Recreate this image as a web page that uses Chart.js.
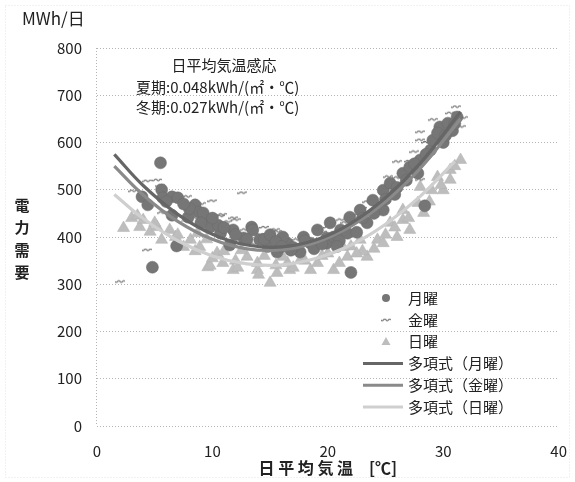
<!DOCTYPE html>
<html lang="ja">
<head>
<meta charset="utf-8">
<script src="https://cdn.jsdelivr.net/npm/chart.js@4.4.1/dist/chart.umd.min.js"></script>
<style>
  html, body { margin: 0; padding: 0; background: #fff; }
  #wrap { width: 575px; height: 482px; }
</style>
</head>
<body>
<div id="wrap"><canvas id="c" width="575" height="482"></canvas></div>
<script>
const FONT = "'Noto Sans CJK JP', 'Noto Sans', sans-serif";

// 月曜
const monX = [5.5, 4.8, 3.9, 4.4, 5.6, 5.7, 6.5, 7.0, 8.5, 8.8, 7.9, 9.4, 6.5, 6.9, 9.2, 9.8, 10.7, 11.8, 13.4, 14.1,
  12.7, 16.5, 18.5, 19.9, 17.6, 15.6, 11.5, 13.5, 16.1, 17.9, 19.1, 20.2, 21.1, 21.9, 22.8, 23.9, 24.8, 25.4, 26.5, 27.1,
  28.0, 28.9, 29.1, 29.7, 30.4, 31.2, 29.5, 27.8, 19.9, 21.7, 23.4, 24.8, 22.0, 28.4, 14.8, 12.0, 10.5, 8.0, 26.0, 25.0,
  30.0, 30.8, 14.5, 15.0, 15.5, 16.0, 17.0, 18.0, 18.8, 19.5, 20.5, 21.0, 22.5, 23.0, 24.0, 25.8, 26.8, 27.5, 28.5, 30.2,
  31.0, 13.0, 11.0, 10.0, 9.0, 7.5, 6.0, 16.8, 20.8];
const monY = [557, 336, 485, 468, 500, 483, 485, 483, 468, 453, 442, 436, 446, 381, 451, 421, 408, 415, 421, 394,
  398, 387, 387, 398, 368, 368, 383, 415, 400, 400, 415, 430, 415, 442, 457, 478, 499, 514, 535, 548,
  563, 584, 605, 633, 641, 654, 620, 535, 387, 408, 430, 457, 325, 466, 380, 405, 425, 460, 505, 480,
  600, 625, 395, 405, 390, 380, 378, 392, 375, 385, 400, 392, 410, 440, 450, 490, 520, 555, 575, 615,
  640, 395, 420, 440, 430, 470, 475, 372, 380];

// 金曜
const friX = [2.0, 4.3, 12.6, 4.3, 5.2, 3.1, 5.5, 6.3, 7.8, 10.0, 11.3, 12.0, 10.7, 12.8, 15.4, 15.2, 5.6, 31.1, 29.1, 28.0,
  28.0, 26.0, 25.2, 23.4, 28.0, 21.1, 15.6, 31.7, 31.5, 30.6, 10.8, 17.3, 18.7, 19.5, 20.0, 22.0, 24.0, 25.0, 26.5, 27.0,
  29.5, 30.0, 8.5, 14.0, 16.5, 13.5, 22.8, 14.5, 16.0, 17.8, 21.5, 23.0, 26.0, 27.5, 28.5, 9.0, 11.8];
const friY = [305, 372, 493, 518, 520, 497, 508, 487, 485, 476, 432, 436, 444, 415, 415, 400, 451, 675, 648, 622,
  605, 559, 527, 474, 521, 436, 411, 652, 633, 662, 447, 394, 394, 410, 420, 445, 470, 500, 540, 560,
  610, 640, 440, 405, 390, 385, 455, 420, 405, 400, 430, 460, 525, 580, 600, 470, 440];

// 日曜
const sunX = [2.3, 3.0, 3.7, 4.0, 4.6, 5.6, 6.3, 5.2, 7.8, 8.1, 7.5, 8.9, 9.6, 8.7, 10.4, 11.8, 10.9, 13.0, 13.9, 15.0,
  15.6, 16.5, 17.6, 19.1, 20.5, 21.7, 23.4, 24.3, 24.8, 25.4, 26.5, 26.5, 27.8, 28.0, 29.0, 29.5, 30.6, 31.5, 30.6, 30.0,
  28.3, 27.1, 26.0, 22.8, 21.3, 16.1, 13.9, 16.7, 9.8, 12.0, 14.5, 18.5, 20.0, 22.0, 23.0, 11.0, 6.8, 9.5, 12.5, 14.0,
  15.5, 17.0, 18.0, 19.5, 21.0, 22.5, 24.0, 25.0, 25.8, 27.0, 28.8, 29.8, 31.0, 12.2, 10.0, 8.5, 7.0, 5.0, 3.5];
const sunY = [419, 440, 421, 436, 411, 394, 415, 421, 440, 394, 379, 379, 336, 408, 366, 330, 345, 358, 330, 303,
  324, 345, 351, 345, 330, 358, 358, 394, 387, 430, 436, 457, 472, 506, 499, 527, 542, 563, 521, 499,
  451, 415, 400, 394, 379, 358, 345, 330, 339, 350, 360, 330, 365, 380, 370, 370, 400, 395, 372, 320,
  340, 335, 350, 360, 345, 365, 375, 405, 420, 440, 475, 510, 550, 335, 355, 370, 405, 430, 445];

// 多項式 trend lines
const trendX = [1.5, 4, 7, 10, 13, 16, 19, 22, 25, 28, 31.5];
const trendMonY = [575, 509, 448, 406, 383, 379, 394, 429, 483, 556, 665];
const trendFriY = [550, 489, 433, 395, 375, 373, 389, 423, 475, 545, 650];
const trendSunX = [1.5, 4, 7, 10, 13, 16, 19, 22, 25, 28, 31];
const trendSunY = [490, 439, 392, 360, 343, 341, 355, 383, 427, 486, 560];

const xTicks = [0, 10, 20, 30, 40];
const yTicks = [0, 100, 200, 300, 400, 500, 600, 700, 800];

const pts = (xs, ys) => xs.map((x, i) => ({ x: x, y: ys[i] }));

// small "~~~" marker used for 金曜
function waveMarker() {
    const c = document.createElement('canvas');
    c.width = 10; c.height = 5;
    const g = c.getContext('2d');
    g.strokeStyle = '#6f6f6f';
    g.lineWidth = 1.2;
    g.beginPath();
    g.moveTo(0, 2);
    for (let i = 0; i < 4; i++) {
        g.quadraticCurveTo(i * 2.5 + 1.25, i % 2 ? 0.5 : 4, i * 2.5 + 2.5, 2);
    }
    g.stroke();
    return c;
}
const wave = waveMarker();

const MON_COLOR = '#767676';
const SUN_COLOR = '#bdbdbd';
const MON_LINE = '#666666';
const FRI_LINE = '#8a8a8a';
const SUN_LINE = '#cfcfcf';

const legendItems = [
    { label: '月曜', kind: 'circle', color: MON_COLOR },
    { label: '金曜', kind: 'wave' },
    { label: '日曜', kind: 'triangle', color: SUN_COLOR },
    { label: '多項式（月曜）', kind: 'line', color: MON_LINE },
    { label: '多項式（金曜）', kind: 'line', color: FRI_LINE },
    { label: '多項式（日曜）', kind: 'line', color: SUN_LINE }
];

const extras = {
    id: 'extras',
    beforeDraw(chart) {
        const ctx = chart.ctx;
        ctx.save();
        ctx.fillStyle = '#fff';
        ctx.fillRect(0, 0, chart.width, chart.height);
        // faint dotted frame
        ctx.strokeStyle = '#e2e2e2';
        ctx.setLineDash([1, 2]);
        ctx.lineWidth = 1;
        ctx.strokeRect(5.5, 5.5, chart.width - 11, chart.height - 10);
        ctx.restore();
    },
    afterDraw(chart) {
        const ctx = chart.ctx;
        const a = chart.chartArea;
        ctx.save();
        // dotted y axis line
        ctx.strokeStyle = '#b4b4b4';
        ctx.setLineDash([1, 2]);
        ctx.beginPath();
        ctx.moveTo(a.left - 0.5, a.top);
        ctx.lineTo(a.left - 0.5, a.bottom);
        ctx.stroke();
        ctx.setLineDash([]);

        ctx.fillStyle = '#222';
        ctx.textBaseline = 'middle';

        // unit
        ctx.font = '17px ' + FONT;
        ctx.textAlign = 'left';
        ctx.fillText('MWh/日', 22, 19);

        // y title, stacked upright
        ctx.font = 'bold 15px ' + FONT;
        ctx.textAlign = 'center';
        ['電', '力', '需', '要'].forEach((ch, i) => ctx.fillText(ch, 22, 205 + i * 22.5));

        // note
        ctx.font = '15px ' + FONT;
        ctx.fillText('日平均気温感応', 224, 65);
        ctx.textAlign = 'left';
        ctx.fillText('夏期:0.048kWh/(㎡・℃)', 136, 87);
        ctx.fillText('冬期:0.027kWh/(㎡・℃)', 136, 107);

        // legend
        const lx = 386, tx = 408;
        ctx.font = '15px ' + FONT;
        legendItems.forEach((it, i) => {
            const y = 298 + i * 21.8;
            if (it.kind === 'circle') {
                ctx.fillStyle = it.color;
                ctx.beginPath();
                ctx.arc(lx, y, 4, 0, Math.PI * 2);
                ctx.fill();
            } else if (it.kind === 'triangle') {
                ctx.fillStyle = it.color;
                ctx.beginPath();
                ctx.moveTo(lx, y - 4.5);
                ctx.lineTo(lx + 4.5, y + 3.5);
                ctx.lineTo(lx - 4.5, y + 3.5);
                ctx.closePath();
                ctx.fill();
            } else if (it.kind === 'wave') {
                ctx.drawImage(wave, lx - 5, y - 2);
            } else {
                ctx.strokeStyle = it.color;
                ctx.lineWidth = 3;
                ctx.beginPath();
                ctx.moveTo(363, y);
                ctx.lineTo(403, y);
                ctx.stroke();
            }
            ctx.fillStyle = '#222';
            ctx.fillText(it.label, tx, y);
        });
        ctx.restore();
    }
};

const trendStyle = (color) => ({
    showLine: true,
    borderColor: color,
    borderWidth: 3.2,
    pointRadius: 0,
    tension: 0.4,
    fill: false,
    order: 0
});

new Chart(document.getElementById('c'), {
    type: 'scatter',
    data: {
        datasets: [
            Object.assign({ label: '多項式（月曜）', data: pts(trendX, trendMonY) }, trendStyle(MON_LINE)),
            Object.assign({ label: '多項式（金曜）', data: pts(trendX, trendFriY) }, trendStyle(FRI_LINE)),
            Object.assign({ label: '多項式（日曜）', data: pts(trendSunX, trendSunY) }, trendStyle(SUN_LINE)),
            {
                label: '月曜', data: pts(monX, monY), order: 1,
                pointStyle: 'circle', pointRadius: 6,
                backgroundColor: MON_COLOR, borderColor: '#6a6a6a', borderWidth: 0.5
            },
            {
                label: '金曜', data: pts(friX, friY), order: 1,
                pointStyle: wave, pointRadius: 5
            },
            {
                label: '日曜', data: pts(sunX, sunY), order: 2,
                pointStyle: 'triangle', pointRadius: 7,
                backgroundColor: SUN_COLOR, borderColor: '#b2b2b2', borderWidth: 0.5
            }
        ]
    },
    options: {
        responsive: false,
        animation: false,
        events: [],
        layout: { padding: { top: 48, right: 15, left: 0, bottom: 0 } },
        plugins: {
            legend: { display: false },
            tooltip: { enabled: false }
        },
        scales: {
            x: {
                type: 'linear',
                min: 0, max: 40,
                afterBuildTicks: s => { s.ticks = xTicks.map(v => ({ value: v })); },
                afterFit: s => { s.height = 56; },
                grid: { display: false },
                border: { display: false },
                ticks: { color: '#222', font: { family: FONT, size: 15 }, padding: 8 },
                title: {
                    display: true,
                    text: '日 平 均 気 温　[℃]',
                    color: '#222',
                    font: { family: FONT, size: 16, weight: 'bold', lineHeight: 1.2 },
                    padding: { top: 0, bottom: 4 }
                }
            },
            y: {
                min: 0, max: 800,
                afterBuildTicks: s => { s.ticks = yTicks.map(v => ({ value: v })); },
                afterFit: s => { s.width = 97; },
                grid: { color: '#b4b4b4', drawTicks: false },
                border: { display: false, dash: [1, 2] },
                ticks: { color: '#222', font: { family: FONT, size: 15 }, padding: 15 }
            }
        }
    },
    plugins: [extras]
});
</script>
</body>
</html>
